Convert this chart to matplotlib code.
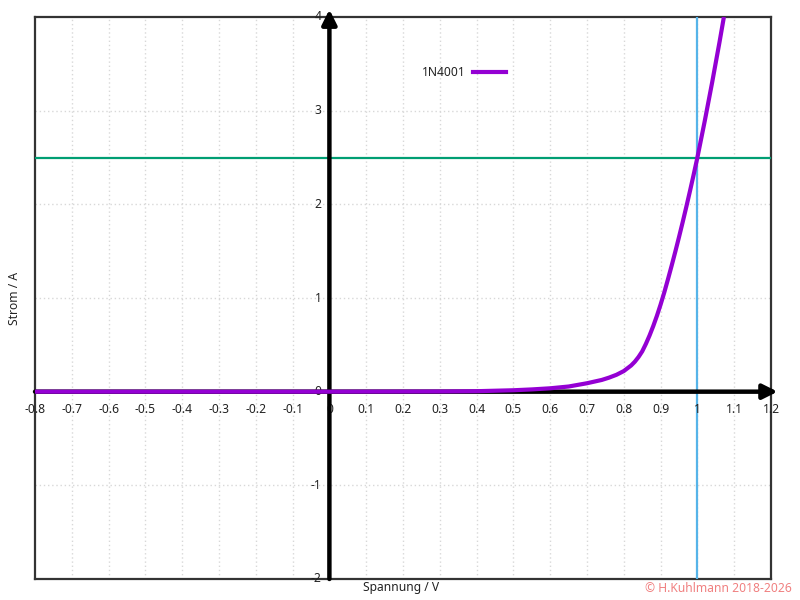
import matplotlib
matplotlib.use("Agg")
import matplotlib.pyplot as plt
from matplotlib.transforms import offset_copy

plt.rcParams["font.family"] = ["Noto Sans", "DejaVu Sans"]

# diode characteristic (V, A)
voltage = [-0.8, -0.4, 0.0, 0.3, 0.4, 0.5, 0.55, 0.6, 0.65, 0.7, 0.74, 0.76,
           0.78, 0.8, 0.81, 0.82, 0.83, 0.84, 0.85, 0.86, 0.87, 0.88, 0.89,
           0.9, 0.91, 0.92, 0.93, 0.94, 0.95, 0.96, 0.97, 0.98, 0.99, 1.0,
           1.02, 1.04, 1.06, 1.072]
current = [0.0, 0.0, 0.0, 0.002, 0.005, 0.015, 0.024, 0.036, 0.055, 0.09, 0.125,
           0.15, 0.18, 0.22, 0.25, 0.28, 0.32, 0.37, 0.43, 0.51, 0.60, 0.70,
           0.81, 0.93, 1.06, 1.2, 1.345, 1.495, 1.65, 1.81, 1.975, 2.145, 2.32,
           2.5, 2.89, 3.30, 3.73, 4.0]
series_label = "1N4001"

x_ticks = [-0.8, -0.7, -0.6, -0.5, -0.4, -0.3, -0.2, -0.1, 0, 0.1, 0.2, 0.3,
           0.4, 0.5, 0.6, 0.7, 0.8, 0.9, 1.0, 1.1, 1.2]
x_tick_labels = ["-0.8", "-0.7", "-0.6", "-0.5", "-0.4", "-0.3", "-0.2", "-0.1",
                 "0", "0.1", "0.2", "0.3", "0.4", "0.5", "0.6", "0.7", "0.8",
                 "0.9", "1", "1.1", "1.2"]
y_ticks = [-2, -1, 0, 1, 2, 3, 4]
y_tick_labels = ["-2", "-1", "0", "1", "2", "3", "4"]

marker_v = 1.0      # vertical helper line
marker_i = 2.5      # horizontal helper line

fig = plt.figure(figsize=(8, 6), dpi=100)
ax = fig.add_axes([35 / 800, 1 - 579 / 600, 736 / 800, 562 / 600])
ax.set_xlim(-0.8, 1.2)
ax.set_ylim(-2, 4)
ax.set_xticks([])
ax.set_yticks([])
for sp in ax.spines.values():
    sp.set_color("#333333")
    sp.set_linewidth(1.6)

grid_kw = dict(color="#d8d8d8", linestyle=(0, (1, 2)), linewidth=1.0, zorder=1)
for xv in x_ticks[1:-1]:
    ax.axvline(xv, **grid_kw)
for yv in y_ticks[1:-1]:
    ax.axhline(yv, **grid_kw)

# zero axes with arrows
arrow_kw = dict(arrowstyle="-|>", color="black", lw=3.2, mutation_scale=22,
                shrinkA=0, shrinkB=0)
ax.annotate("", xy=(0, 4.08), xytext=(0, -2), arrowprops=arrow_kw,
            annotation_clip=False, zorder=4)
ax.annotate("", xy=(1.218, 0), xytext=(-0.8, 0), arrowprops=arrow_kw,
            annotation_clip=False, zorder=4)

ax.axhline(marker_i, color="#009E73", lw=1.6, zorder=3)
ax.axvline(marker_v, color="#56B4E9", lw=1.6, zorder=3)

ax.plot(voltage, current, color="#9400D3", lw=3.0, zorder=5,
        solid_capstyle="butt", solid_joinstyle="round")

# tick labels placed along the zero axes
tx = offset_copy(ax.transData, fig=fig, x=0, y=-18, units="dots")
for xv, lab in zip(x_ticks, x_tick_labels):
    ax.text(xv, 0, lab, transform=tx, ha="center", va="center",
            fontsize=8.7, color="#222222", clip_on=False)
ty = offset_copy(ax.transData, fig=fig, x=-8, y=0, units="dots")
for yv, lab in zip(y_ticks, y_tick_labels):
    ax.text(0, yv, lab, transform=ty, ha="right", va="center",
            fontsize=8.7, color="#222222", clip_on=False)

# legend
fig.text(466 / 800, 1 - 72 / 600, series_label, ha="right", va="center",
         fontsize=8.7, color="#222222")
fig.add_artist(plt.Line2D([473 / 800, 506 / 800], [1 - 72 / 600, 1 - 72 / 600],
                          color="#9400D3", lw=3.0))

fig.text(401 / 800, 1 - 588 / 600, "Spannung / V", ha="center", va="center",
         fontsize=8.7, color="#222222")
fig.text(15 / 800, 1 - 298 / 600, "Strom / A", ha="center", va="center",
         rotation=90, fontsize=8.7, color="#222222")
fig.text(792 / 800, 1 - 588 / 600, "\u00a9 H.Kuhlmann 2018-2026", ha="right",
         va="center", fontsize=8.7, color="#F08080")

fig.savefig("out.png", dpi=100)
